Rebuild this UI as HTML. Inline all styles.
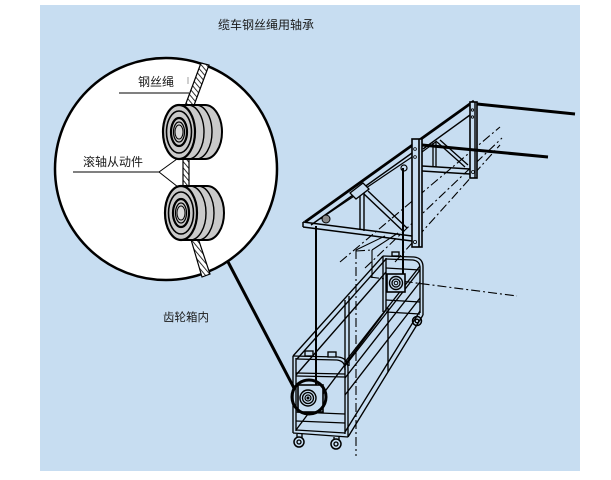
<!DOCTYPE html>
<html><head><meta charset="utf-8">
<style>
html,body{margin:0;padding:0;background:#fff;}
svg{display:block;}
text{font-family:"Liberation Sans","Noto Sans CJK SC",sans-serif;fill:#1a1a1a;}
</style></head>
<body>
<svg width="611" height="480" viewBox="0 0 611 480" xmlns="http://www.w3.org/2000/svg">
<defs>
<pattern id="hatch" patternUnits="userSpaceOnUse" width="4" height="4" patternTransform="rotate(-40)">
<rect width="4" height="4" fill="#fff"/>
<line x1="0" y1="0" x2="0" y2="4" stroke="#000" stroke-width="1.6"/>
</pattern>
</defs>
<rect x="40" y="5" width="540" height="466" fill="#c7ddf1"/>

<text x="218" y="29" font-size="12">缆车钢丝绳用轴承</text>
<text x="163" y="321" font-size="11.5">齿轮箱内</text>

<!-- leader line -->
<line x1="226" y1="258" x2="294" y2="388" stroke="#000" stroke-width="3"/>

<!-- magnified circle -->
<circle cx="166" cy="169" r="111" fill="#fff" stroke="#000" stroke-width="2.5"/>

<!-- rope segments -->
<polygon points="201,63 209,65 193,108 185,106" fill="url(#hatch)" stroke="#000" stroke-width="1.2"/>
<polygon points="183,156 189,156 189,190 183,190" fill="url(#hatch)" stroke="#000" stroke-width="1.2"/>
<polygon points="190,236 197,235 210,274 202,277" fill="url(#hatch)" stroke="#000" stroke-width="1.2"/>

<!-- upper roller -->
<g transform="translate(179,132)" stroke="#000" fill="none">
<path d="M0,-27 L26,-27 A17,27 0 0 1 26,27 L0,27 Z" fill="#cacaca" stroke-width="2"/>
<path d="M9,-27 A16,27 0 0 1 9,27" stroke-width="1.4"/>
<path d="M17,-27 A16,27 0 0 1 17,27" stroke-width="1.4"/>
<ellipse cx="0" cy="0" rx="16" ry="27" fill="#cacaca" stroke-width="2.2"/>
<ellipse cx="0" cy="0" rx="12.5" ry="21" stroke-width="1.6"/>
<ellipse cx="0" cy="0" rx="8" ry="14" stroke-width="2.2"/>
<ellipse cx="0" cy="0" rx="5.5" ry="10" stroke-width="1.2"/>
<ellipse cx="0" cy="0" rx="4" ry="7" fill="#dadada" stroke-width="1"/>
</g>
<!-- lower roller -->
<g transform="translate(181,213)" stroke="#000" fill="none">
<path d="M0,-27 L26,-27 A17,27 0 0 1 26,27 L0,27 Z" fill="#cacaca" stroke-width="2"/>
<path d="M9,-27 A16,27 0 0 1 9,27" stroke-width="1.4"/>
<path d="M17,-27 A16,27 0 0 1 17,27" stroke-width="1.4"/>
<ellipse cx="0" cy="0" rx="16" ry="27" fill="#cacaca" stroke-width="2.2"/>
<ellipse cx="0" cy="0" rx="12.5" ry="21" stroke-width="1.6"/>
<ellipse cx="0" cy="0" rx="8" ry="14" stroke-width="2.2"/>
<ellipse cx="0" cy="0" rx="5.5" ry="10" stroke-width="1.2"/>
<ellipse cx="0" cy="0" rx="4" ry="7" fill="#dadada" stroke-width="1"/>
</g>

<!-- circle labels -->
<text x="138" y="86" font-size="12">钢丝绳</text>
<line x1="119" y1="93" x2="189" y2="93" stroke="#000" stroke-width="1"/>
<line x1="188" y1="77" x2="188" y2="84" stroke="#888" stroke-width="0.8"/>
<text x="83" y="166" font-size="12">滚轴从动件</text>
<polyline points="73,172 159,172 177,159" fill="none" stroke="#000" stroke-width="1"/>
<line x1="159" y1="172" x2="178" y2="187" stroke="#000" stroke-width="1"/>

<!-- dash-dot building lines -->
<g stroke="#000" stroke-width="1.1" fill="none" stroke-dasharray="9,3,2,3">
<line x1="340" y1="262" x2="500" y2="127"/>
<line x1="365" y1="268" x2="502" y2="138"/>
<line x1="395" y1="262" x2="500" y2="145"/>
<line x1="356" y1="250" x2="356" y2="456"/>
<line x1="370" y1="277" x2="517" y2="296"/>
<line x1="356" y1="251" x2="372" y2="250"/>
</g>
<g stroke="#000" stroke-width="1.1" fill="none">
<line x1="356" y1="250" x2="385" y2="236"/>
<line x1="372" y1="250" x2="398" y2="233"/>
<line x1="372" y1="250" x2="372" y2="278"/>
</g>

<!-- truss -->
<g stroke="#000" fill="none">
<line x1="305" y1="222" x2="474" y2="101" stroke-width="2.8"/>
<line x1="311" y1="225" x2="412" y2="153" stroke-width="1.4"/>
<line x1="320" y1="219" x2="412" y2="157" stroke-width="1.2"/>
<line x1="423" y1="149" x2="470" y2="115" stroke-width="1.4"/>
<line x1="303" y1="222" x2="412" y2="236" stroke-width="1.5"/>
<line x1="303" y1="227" x2="412" y2="241" stroke-width="1.5"/>
<line x1="303" y1="222" x2="303" y2="227" stroke-width="1.5"/>
<line x1="360" y1="194" x2="360" y2="230" stroke-width="1.4"/>
<line x1="364" y1="191" x2="364" y2="231" stroke-width="1.4"/>
<line x1="364" y1="194" x2="404" y2="232" stroke-width="1.4"/>
<line x1="368" y1="191" x2="407" y2="228" stroke-width="1.4"/>
<polygon points="350,193 363,183 369,189 356,199" fill="#c7ddf1" stroke-width="1.3"/>
<circle cx="326" cy="219" r="4" fill="#888" stroke-width="1"/>
<!-- front post plate -->
<rect x="412" y="139" width="10" height="108" fill="#c7ddf1" stroke-width="1.6"/>
<line x1="419" y1="139" x2="419" y2="247" stroke-width="1.6"/>
<circle cx="415" cy="149" r="1.4" stroke-width="0.8"/>
<circle cx="415" cy="157" r="1.4" stroke-width="0.8"/>
<circle cx="415" cy="242" r="1.6" stroke-width="0.8"/>
<!-- rear truss -->
<line x1="422" y1="166" x2="470" y2="169" stroke-width="1.4"/>
<line x1="422" y1="171" x2="470" y2="174" stroke-width="1.4"/>
<line x1="433" y1="143" x2="433" y2="167" stroke-width="1.3"/>
<line x1="436" y1="141" x2="436" y2="167" stroke-width="1.3"/>
<line x1="437" y1="142" x2="465" y2="167" stroke-width="1.3"/>
<line x1="440" y1="140" x2="468" y2="165" stroke-width="1.3"/>
<line x1="422" y1="152" x2="437" y2="141" stroke-width="1.1"/>
<rect x="470" y="102" width="7" height="76" fill="#c7ddf1" stroke-width="1.6"/>
<line x1="475" y1="102" x2="475" y2="178" stroke-width="1.4"/>
<circle cx="472.5" cy="110" r="1.2" stroke-width="0.8"/>
<circle cx="472.5" cy="117" r="1.2" stroke-width="0.8"/>
<circle cx="473" cy="172" r="1.5" stroke-width="0.8"/>
<!-- cables -->
<line x1="477" y1="104" x2="575" y2="114" stroke-width="3"/>
<line x1="422" y1="145" x2="548" y2="157" stroke-width="3"/>
<!-- ropes down -->
<circle cx="404" cy="168" r="3" stroke-width="1.2"/>
<line x1="403" y1="168" x2="403" y2="274" stroke-width="2"/>
<line x1="316" y1="226" x2="316" y2="386" stroke-width="2"/>
</g>

<!-- cage -->
<g stroke="#000" fill="none" stroke-width="1.35">
<!-- rails -->
<line x1="293" y1="356" x2="383" y2="256"/>
<line x1="297" y1="359" x2="386" y2="259"/>
<line x1="296" y1="375" x2="386" y2="272"/>
<line x1="345" y1="362" x2="420" y2="266"/>
<line x1="345" y1="366" x2="420" y2="270"/>
<line x1="345" y1="378" x2="420" y2="282"/>
<line x1="345" y1="395" x2="420" y2="298"/>
<line x1="348" y1="437" x2="423" y2="315"/>
<line x1="345" y1="432" x2="420" y2="311"/>
<line x1="296" y1="430" x2="386" y2="310"/>
<line x1="345" y1="300" x2="345" y2="370"/>
<line x1="349" y1="296" x2="349" y2="366"/>
<line x1="388" y1="308" x2="388" y2="372"/>
<!-- near end frame -->
<line x1="293" y1="356" x2="293" y2="433"/>
<line x1="296" y1="358" x2="296" y2="431"/>
<path d="M293,356 L338,357 Q348,358 348,368 L348,437"/>
<path d="M296,359 L337,360 Q345,361 345,369 L345,434"/>
<line x1="293" y1="433" x2="348" y2="437"/>
<line x1="296" y1="430" x2="345" y2="433"/>
<line x1="296" y1="373" x2="345" y2="374"/>
<line x1="296" y1="376" x2="345" y2="377"/>
<line x1="296" y1="412" x2="345" y2="414"/>
<line x1="296" y1="421" x2="345" y2="423"/>
<rect x="305" y="351" width="8" height="5" fill="#c7ddf1"/>
<rect x="328" y="352" width="8" height="5" fill="#c7ddf1"/>
<!-- far end frame -->
<line x1="383" y1="256" x2="383" y2="312"/>
<line x1="386" y1="258" x2="386" y2="311"/>
<path d="M383,256 L414,257 Q423,258 423,267 L423,315"/>
<path d="M386,259 L413,260 Q420,261 420,268 L420,313"/>
<line x1="386" y1="312" x2="420" y2="314"/>
<line x1="386" y1="268" x2="420" y2="270"/>
<line x1="386" y1="300" x2="420" y2="302"/>
<rect x="392" y="252" width="7" height="4" fill="#c7ddf1"/>
<!-- wheels -->
<path d="M297,434 L297,438 M302,434 L302,438"/>
<circle cx="299" cy="442" r="5" stroke-width="1.5"/>
<circle cx="299" cy="442" r="2"/>
<path d="M334,437 L334,440 M339,437 L339,440"/>
<circle cx="336" cy="444" r="5" stroke-width="1.5"/>
<circle cx="336" cy="444" r="2"/>
<circle cx="417" cy="321" r="4.5" stroke-width="1.5"/>
<circle cx="417" cy="321" r="1.8"/>
</g>

<!-- gearboxes -->
<g stroke="#000" fill="none">
<rect x="298" y="385" width="25" height="27" fill="#c7ddf1" stroke-width="1.6"/>
<circle cx="308" cy="398" r="8" stroke-width="1.4"/>
<circle cx="308" cy="398" r="5.5" stroke-width="1.3"/>
<circle cx="308" cy="398" r="3" stroke-width="1.2"/>
<circle cx="308" cy="398" r="1" fill="#000"/>
<circle cx="309" cy="397" r="17" stroke-width="3"/>
<rect x="387" y="274" width="18" height="18" fill="#c7ddf1" stroke-width="1.6"/>
<circle cx="396" cy="283" r="6.5" stroke-width="1.4"/>
<circle cx="396" cy="283" r="4" stroke-width="1.3"/>
<circle cx="396" cy="283" r="1.8" stroke-width="1"/>
</g>
</svg>
</body></html>
